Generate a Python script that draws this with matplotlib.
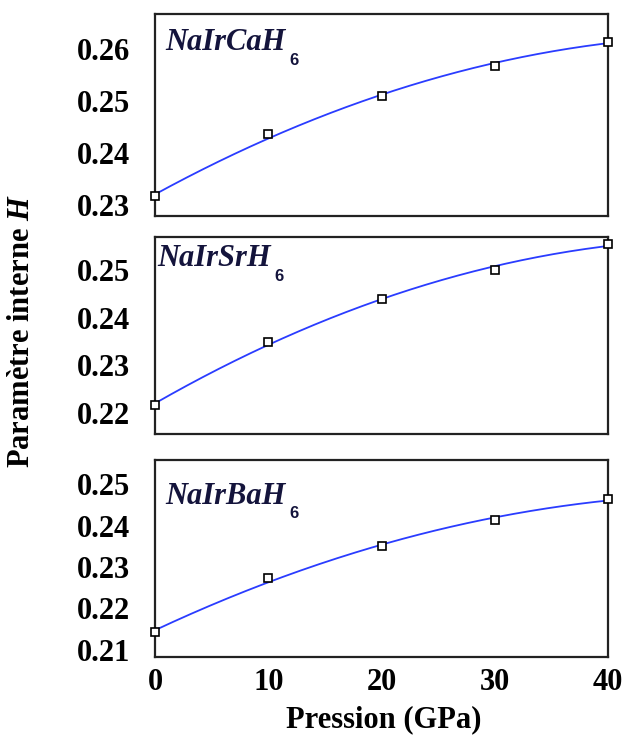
import matplotlib
matplotlib.use("Agg")
import matplotlib.pyplot as plt
import numpy as np

plt.rcParams["font.family"] = ["Liberation Serif", "DejaVu Serif"]
plt.rcParams["font.weight"] = "bold"
plt.rcParams["mathtext.fontset"] = "custom"
plt.rcParams["mathtext.it"] = "Liberation Serif:italic:bold"
plt.rcParams["mathtext.rm"] = "Liberation Serif:bold"

# Pressure points (GPa)
pression = [0, 10, 20, 30, 40]

# Internal parameter H for each hydride
h_ca = [0.2316, 0.2435, 0.2510, 0.2567, 0.2614]
h_sr = [0.2217, 0.2349, 0.2440, 0.2500, 0.2554]
h_ba = [0.2143, 0.2273, 0.2351, 0.2413, 0.2464]

compounds = ["NaIrCaH", "NaIrSrH", "NaIrBaH"]
yticks = [[0.23, 0.24, 0.25, 0.26],
          [0.22, 0.23, 0.24, 0.25],
          [0.21, 0.22, 0.23, 0.24, 0.25]]
ylims = [(0.2278, 0.2667), (0.2156, 0.2569), (0.2083, 0.2558)]
label_pos = [(0.022, 0.93), (0.004, 0.965), (0.022, 0.89)]

fig = plt.figure(figsize=(6.23, 7.40), dpi=100)
left, width = 0.2488, 0.7272
boxes = [(0.7081, 0.2730), (0.4135, 0.2662), (0.1122, 0.2662)]
ink = "#14143c"

xs = np.linspace(0, 40, 200)
for i, (series, (bottom, height)) in enumerate(zip([h_ca, h_sr, h_ba], boxes)):
    ax = fig.add_axes([left, bottom, width, height])
    # smooth quadratic fit through the computed points
    coef = np.polyfit(pression, series, 2)
    ax.plot(xs, np.polyval(coef, xs), color="#2a3cff", lw=1.3, zorder=2)
    ax.plot(pression, series, ls="none", marker="s", ms=6, mfc="white",
            mec="black", mew=1.2, zorder=3, clip_on=False)
    ax.set_xlim(0, 40)
    ax.set_ylim(*ylims[i])
    ax.set_yticks(yticks[i])
    ax.set_yticklabels([f"{t:.2f}" for t in yticks[i]])
    ax.set_xticks([0, 10, 20, 30, 40])
    ax.tick_params(axis="y", length=0, pad=18, labelsize=22)
    ax.tick_params(axis="x", length=0, pad=8, labelsize=22)
    if i < 2:
        ax.tick_params(axis="x", labelbottom=False)
    for sp in ax.spines.values():
        sp.set_linewidth(1.6)
        sp.set_color("#222222")
    name = ax.text(*label_pos[i], compounds[i], transform=ax.transAxes,
                   ha="left", va="top", fontsize=22, fontstyle="italic",
                   color=ink)
    # small subscript 6 sitting below the formula baseline
    ax.annotate("6", xy=(1, 0), xycoords=name, xytext=(3, 3),
                textcoords="offset points", ha="left", va="top",
                fontsize=12, fontweight="bold", family="Liberation Sans",
                color=ink)

fig.text(0.035, 0.553, r"Paramètre interne $H$", rotation=90, ha="center",
         va="center", fontsize=22, fontweight="bold")
fig.text(0.616, 0.027, "Pression (GPa)", ha="center", va="center",
         fontsize=22, fontweight="bold")

fig.savefig("out.png", dpi=100)
